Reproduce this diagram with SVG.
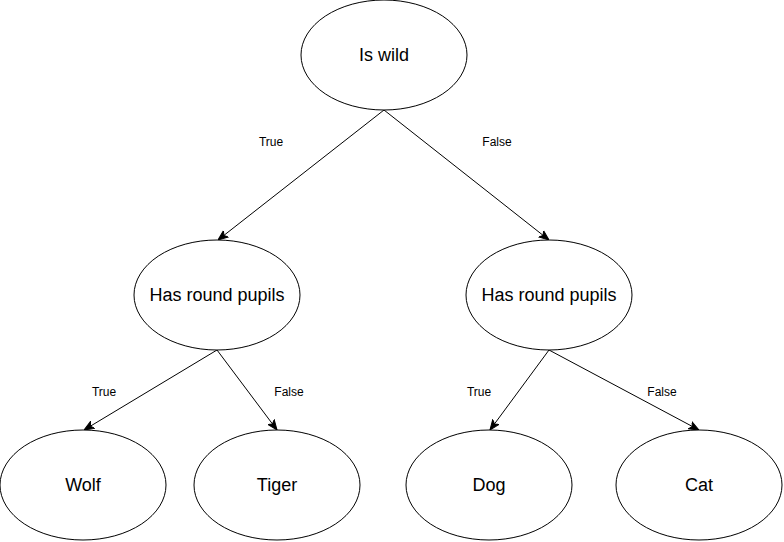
<svg xmlns="http://www.w3.org/2000/svg" width="784" height="542" viewBox="0 0 784 542">
<defs>
<marker id="arr" viewBox="0 0 10 10" refX="10" refY="5" markerWidth="10" markerHeight="10" markerUnits="userSpaceOnUse" orient="auto">
<path d="M0,1 L10,5 L0,9 L2.5,5 Z" fill="#000" stroke="#000" stroke-width="1"/>
</marker>
</defs>
<style>
.node ellipse{fill:#fff;stroke:#000;stroke-width:1}
.node text{font-family:"Liberation Sans",Arial,sans-serif;font-size:18px;fill:#000;text-anchor:middle;dominant-baseline:central}
.edge line{stroke:#000;stroke-width:1;fill:none;marker-end:url(#arr)}
.lbl{font-family:"Liberation Sans",Arial,sans-serif;font-size:12px;fill:#000;text-anchor:middle;dominant-baseline:central}
</style>
<rect width="784" height="542" fill="#fff"/>
<g id="connectors" class="edge">
<line x1="384" y1="110" x2="218" y2="240"/>
<line x1="384" y1="110" x2="549" y2="240"/>
<line x1="217" y1="350" x2="84" y2="430"/>
<line x1="217" y1="350" x2="277" y2="430"/>
<line x1="549" y1="350" x2="490" y2="430"/>
<line x1="549" y1="350" x2="699" y2="430"/>
<text class="lbl" x="271" y="142">True</text>
<text class="lbl" x="497" y="142">False</text>
<text class="lbl" x="104" y="392">True</text>
<text class="lbl" x="289" y="392">False</text>
<text class="lbl" x="479" y="392">True</text>
<text class="lbl" x="662" y="392">False</text>
</g>
<g id="node-wild" class="node"><ellipse cx="384" cy="55" rx="83" ry="55"/><text x="384" y="55">Is wild</text></g>
<g id="node-pupils-left" class="node"><ellipse cx="217" cy="295" rx="83" ry="55"/><text x="217" y="295">Has round pupils</text></g>
<g id="node-pupils-right" class="node"><ellipse cx="549" cy="295" rx="83" ry="55"/><text x="549" y="295">Has round pupils</text></g>
<g id="node-wolf" class="node"><ellipse cx="83" cy="485" rx="83" ry="55"/><text x="83" y="485">Wolf</text></g>
<g id="node-tiger" class="node"><ellipse cx="277" cy="485" rx="83" ry="55"/><text x="277" y="485">Tiger</text></g>
<g id="node-dog" class="node"><ellipse cx="489" cy="485" rx="83" ry="55"/><text x="489" y="485">Dog</text></g>
<g id="node-cat" class="node"><ellipse cx="699" cy="485" rx="83" ry="55"/><text x="699" y="485">Cat</text></g>
</svg>
